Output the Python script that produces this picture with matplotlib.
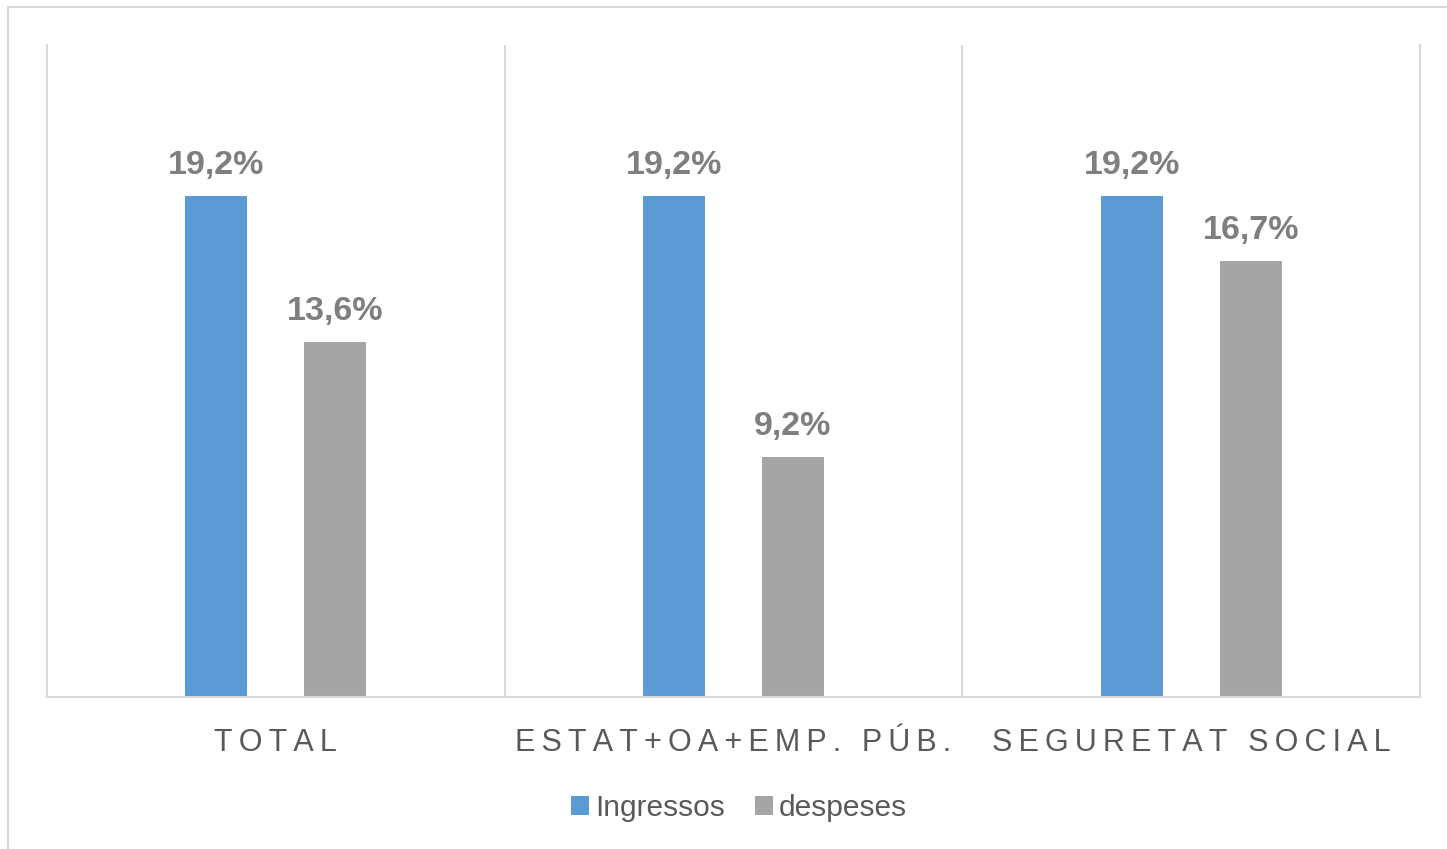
import matplotlib.pyplot as plt
from matplotlib.patches import Rectangle
import numpy as np

# Data
categories = ['TOTAL', 'ESTAT+OA+EMP. PÚB.', 'SEGURETAT SOCIAL']
ingressos = [19.2, 19.2, 19.2]
despeses = [13.6, 9.2, 16.7]
series_names = ['Ingressos', 'despeses']

blue = '#5B9BD5'
gray = '#A5A5A5'
line_col = '#D9D9D9'

plt.rcParams['font.family'] = ['Liberation Sans', 'DejaVu Sans']

def spaced(s):
    # wide letter spacing like the original axis labels
    return '\u2009'.join(s)

fig = plt.figure(figsize=(14.47, 8.49), dpi=100)
ax = fig.add_axes([47/1447, 1-697/849, (1420-47)/1447, (697-45)/849])

# outer frame of the chart area
fig.patches.append(Rectangle((8/1447, -0.1), 1.2, 1-7/849+0.1, transform=fig.transFigure,
                             fill=False, edgecolor=line_col, linewidth=1.5))

x = np.arange(len(categories))
off = 0.13
w = 0.136
b1 = ax.bar(x - off, ingressos, w, color=blue, label=series_names[0])
b2 = ax.bar(x + off, despeses, w, color=gray, label=series_names[1])

for bars, vals in [(b1, ingressos), (b2, despeses)]:
    for r, v in zip(bars, vals):
        ax.annotate(('%.1f%%' % v).replace('.', ','),
                    (r.get_x() + r.get_width()/2, r.get_height()),
                    xytext=(0, 11), textcoords='offset points',
                    ha='center', va='bottom', fontsize=24.5, fontweight='bold', color='#7F7F7F')

ax.set_xlim(-0.5, 2.5)
ax.set_ylim(0, 25)
ax.set_yticks([])
ax.set_xticks(x)
ax.set_xticklabels([spaced(c) for c in categories], fontsize=22, color='#595959')
ax.tick_params(axis='x', length=0, pad=22)

for xv in [0.5, 1.5]:
    ax.axvline(xv, color=line_col, lw=1.5, zorder=0)
ax.spines['top'].set_visible(False)
for s in ['left', 'right', 'bottom']:
    ax.spines[s].set_color(line_col)
    ax.spines[s].set_linewidth(1.5)

ax.legend(loc='center', bbox_to_anchor=(739/1447, 1-808/849), bbox_transform=fig.transFigure,
          ncol=2, frameon=False, fontsize=21.5, labelcolor='#595959',
          handlelength=0.6, handleheight=0.6, handletextpad=0.2, columnspacing=1.0)

fig.savefig('out.png', dpi=100)
